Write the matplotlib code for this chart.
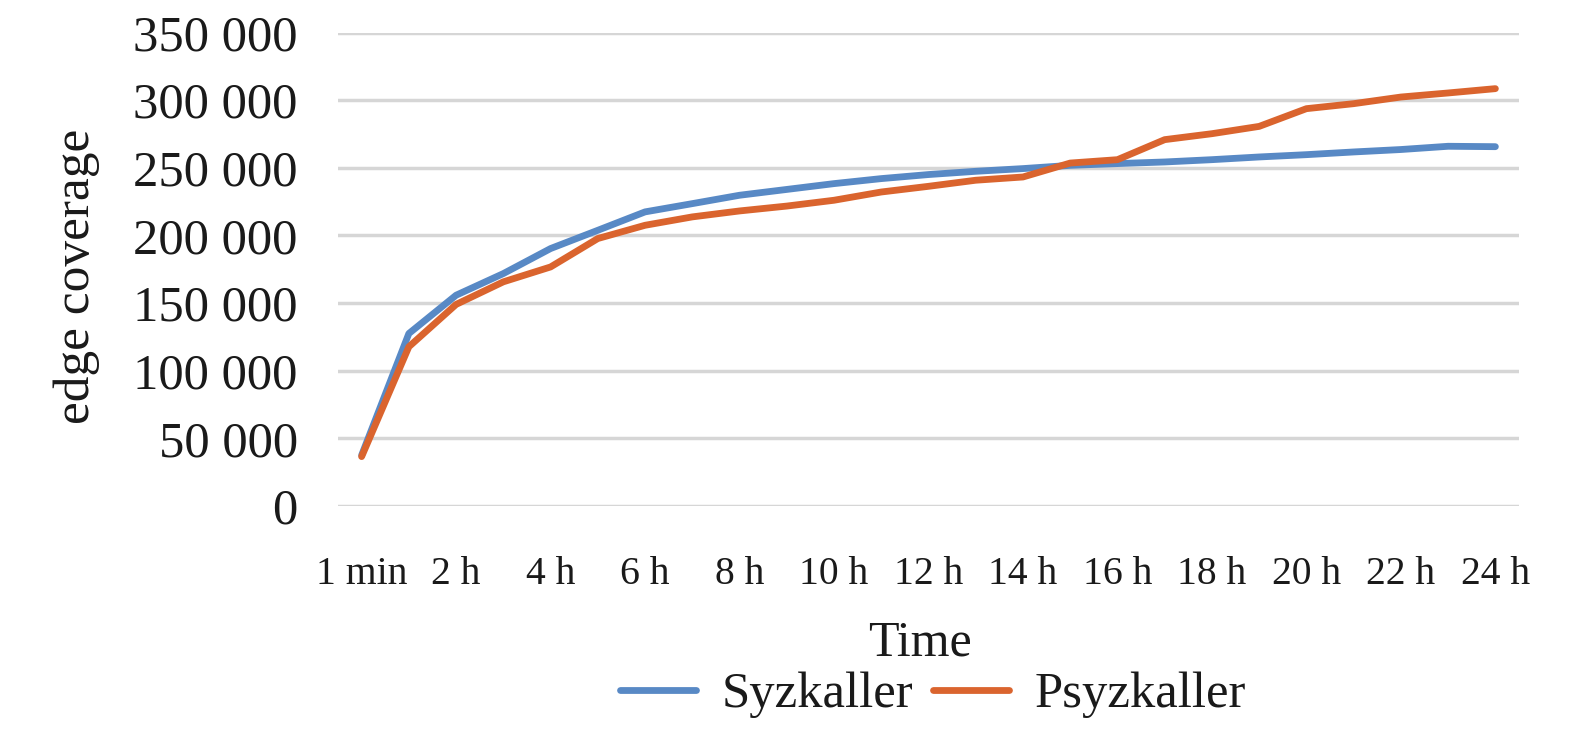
import matplotlib
matplotlib.use("Agg")
import matplotlib.pyplot as plt

categories = ["1 min"] + [f"{h} h" for h in range(1, 25)]
tick_labels = ["1 min"] + [f"{h} h" for h in range(2, 25, 2)]
syzkaller = [37500, 127500, 155800, 171800, 190300, 203800, 217400, 223500,
             229700, 234000, 238300, 242000, 245000, 247400, 249400, 251800,
             253100, 254300, 256000, 258000, 259700, 261700, 263500, 265900,
             265600]
psyzkaller = [36500, 117700, 149000, 165700, 176700, 197700, 207500, 213700,
              218100, 221700, 226000, 232100, 236300, 240800, 243200, 253500,
              256000, 270800, 275200, 280600, 293700, 297400, 302300, 305300,
              308500]
yticks = [0, 50000, 100000, 150000, 200000, 250000, 300000, 350000]
ytick_labels = ["0", "50 000", "100 000", "150 000", "200 000", "250 000",
                "300 000", "350 000"]

plt.rcParams["font.family"] = ["Liberation Serif", "DejaVu Serif"]

W, H = 1575, 738
fig = plt.figure(figsize=(W / 100, H / 100), dpi=100)
left, right = 338 / W, 1519 / W
bottom, top = 1 - 506 / H, 1 - 32.5 / H
ax = fig.add_axes([left, bottom, right - left, top - bottom])

x = list(range(len(categories)))
blue = "#5889C5"
orange = "#DA642E"
ax.plot(x, syzkaller, color=blue, lw=4.9, solid_capstyle="round",
        solid_joinstyle="round", label="Syzkaller", zorder=3)
ax.plot(x, psyzkaller, color=orange, lw=4.9, solid_capstyle="round",
        solid_joinstyle="round", label="Psyzkaller", zorder=4)

ax.set_xlim(-0.5, len(categories) - 0.5)
ax.set_ylim(0, 350000)
ax.set_yticks(yticks)
ax.set_yticklabels(ytick_labels, fontsize=36.5)
tick_pos = [categories.index(t) for t in tick_labels]
ax.set_xticks(tick_pos)
ax.set_xticklabels(tick_labels, fontsize=28.5)
ax.tick_params(axis="y", length=0, pad=29, colors="#1a1a1a")
ax.tick_params(axis="x", length=0, pad=36, colors="#1a1a1a")
ax.grid(axis="y", color="#d6d6d6", lw=2.5)
ax.set_axisbelow(True)
for s in ax.spines.values():
    s.set_visible(False)

fig.text(77 / W, 1 - 276 / H, "edge coverage", rotation=90, ha="center",
         va="center", fontsize=37, color="#1a1a1a")
fig.text(920 / W, 1 - 643 / H, "Time", ha="center", va="center",
         fontsize=36, color="#1a1a1a")

leg = fig.legend(loc="center", bbox_to_anchor=(933 / W, 1 - 695 / H), ncol=2,
                 frameon=False, fontsize=36.5, handlelength=1.5,
                 handletextpad=0.5, columnspacing=0.4, borderaxespad=0,
                 borderpad=0)
for t in leg.get_texts():
    t.set_color("#1a1a1a")

fig.savefig("out.png", dpi=100, facecolor="white")
